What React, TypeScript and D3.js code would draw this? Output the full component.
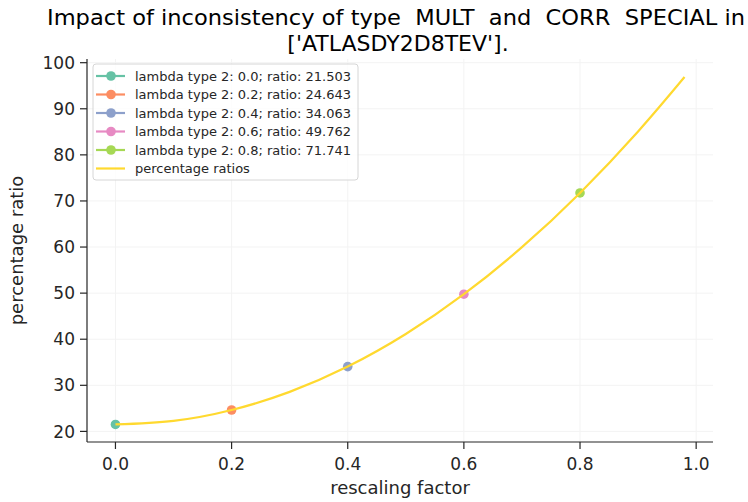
import React from "react";
import * as d3 from "d3";

const lambdaValues = [0.0, 0.2, 0.4, 0.6, 0.8];
const ratioValues = [21.503, 24.643, 34.063, 49.762, 71.741];
const pointColors = ["#66c2a5", "#fc8d62", "#8da0cb", "#e78ac3", "#a6d854"];

// fitted percentage-ratio curve, sampled along the rescaling factor
const curveX = [0.0, 0.1, 0.2, 0.3, 0.4, 0.5, 0.6, 0.7, 0.8, 0.9, 0.98];
const curveY = [21.503, 22.29, 24.643, 28.57, 34.063, 41.13, 49.762, 59.97, 71.741, 85.09, 96.9];

const xTicks = [0.0, 0.2, 0.4, 0.6, 0.8, 1.0];
const yTicks = [20, 30, 40, 50, 60, 70, 80, 90, 100];

const W = 748;
const H = 502;
const M = { left: 87, right: 713, top: 59, bottom: 442 };
const FONT = "DejaVu Sans, sans-serif";

export default function App() {
  const x = d3.scaleLinear().domain([-0.049, 1.029]).range([M.left, M.right]);
  const y = d3.scaleLinear().domain([17.7, 100.8]).range([M.bottom, M.top]);

  const line = d3
    .line<number>()
    .x((_, i) => x(curveX[i]))
    .y((d) => y(d))
    .curve(d3.curveNatural);

  const legendItems = lambdaValues.map((l, i) => ({
    label: `lambda type 2: ${l.toFixed(1)}; ratio: ${ratioValues[i].toFixed(3)}`,
    color: pointColors[i],
    marker: true,
  }));
  legendItems.push({ label: "percentage ratios", color: "#ffd92f", marker: false });

  return (
    <svg
      width={W}
      height={H}
      style={{ position: "absolute", left: 0, top: 0, background: "#fff" }}
      fontFamily={FONT}
    >
      {/* grid */}
      <g stroke="#f3f3f3" strokeWidth={1}>
        {xTicks.map((t) => (
          <line key={"gx" + t} x1={x(t)} x2={x(t)} y1={M.top} y2={M.bottom} />
        ))}
        {yTicks.map((t) => (
          <line key={"gy" + t} x1={M.left} x2={M.right} y1={y(t)} y2={y(t)} />
        ))}
      </g>

      {/* spines */}
      <line x1={M.left} x2={M.left} y1={M.top} y2={M.bottom} stroke="#262626" strokeWidth={1.2} />
      <line x1={M.left} x2={M.right} y1={M.bottom} y2={M.bottom} stroke="#262626" strokeWidth={1.2} />

      {/* y ticks */}
      {yTicks.map((t) => (
        <g key={"yt" + t}>
          <line x1={M.left - 7} x2={M.left} y1={y(t)} y2={y(t)} stroke="#262626" strokeWidth={1.2} />
          <text x={M.left - 12} y={y(t)} dy="0.36em" textAnchor="end" fontSize={17} fill="#262626">
            {t}
          </text>
        </g>
      ))}

      {/* x ticks */}
      {xTicks.map((t) => (
        <g key={"xt" + t}>
          <line x1={x(t)} x2={x(t)} y1={M.bottom} y2={M.bottom + 7} stroke="#262626" strokeWidth={1.2} />
          <text x={x(t)} y={470} textAnchor="middle" fontSize={17} fill="#262626">
            {t.toFixed(1)}
          </text>
        </g>
      ))}

      {/* points */}
      {lambdaValues.map((l, i) => (
        <circle key={"p" + i} cx={x(l)} cy={y(ratioValues[i])} r={4.8} fill={pointColors[i]} />
      ))}

      {/* curve */}
      <path d={line(curveY) || ""} fill="none" stroke="#ffd92f" strokeWidth={2.2} />

      {/* axis labels */}
      <text x={(M.left + M.right) / 2} y={494} textAnchor="middle" fontSize={18} fill="#262626">
        rescaling factor
      </text>
      <text
        transform={`translate(23, ${(M.top + M.bottom) / 2}) rotate(-90)`}
        textAnchor="middle"
        fontSize={18}
        fill="#262626"
      >
        percentage ratio
      </text>

      {/* title */}
      <text
        x={396}
        y={25}
        textAnchor="middle"
        fontSize={22}
        fill="#000"
        textLength={698}
        lengthAdjust="spacingAndGlyphs"
        style={{ whiteSpace: "pre" }}
        xmlSpace="preserve"
      >
        {"Impact of inconsistency of type  MULT  and  CORR  SPECIAL in"}
      </text>
      <text x={398} y={51} textAnchor="middle" fontSize={22} fill="#000">
        ['ATLASDY2D8TEV'].
      </text>

      {/* legend */}
      <g transform="translate(93,64)">
        <rect x={0} y={0} width={265} height={116} rx={3} fill="#fff" fillOpacity={0.8} stroke="#d6d6d6" />
        {legendItems.map((it, i) => (
          <g key={"lg" + i} transform={`translate(0, ${12 + i * 18.5})`}>
            <line x1={3} x2={32} y1={0} y2={0} stroke={it.color} strokeWidth={2.2} />
            {it.marker && <circle cx={18} cy={0} r={4.8} fill={it.color} />}
            <text x={42} y={0} dy="0.36em" fontSize={13} fill="#262626">
              {it.label}
            </text>
          </g>
        ))}
      </g>
    </svg>
  );
}
